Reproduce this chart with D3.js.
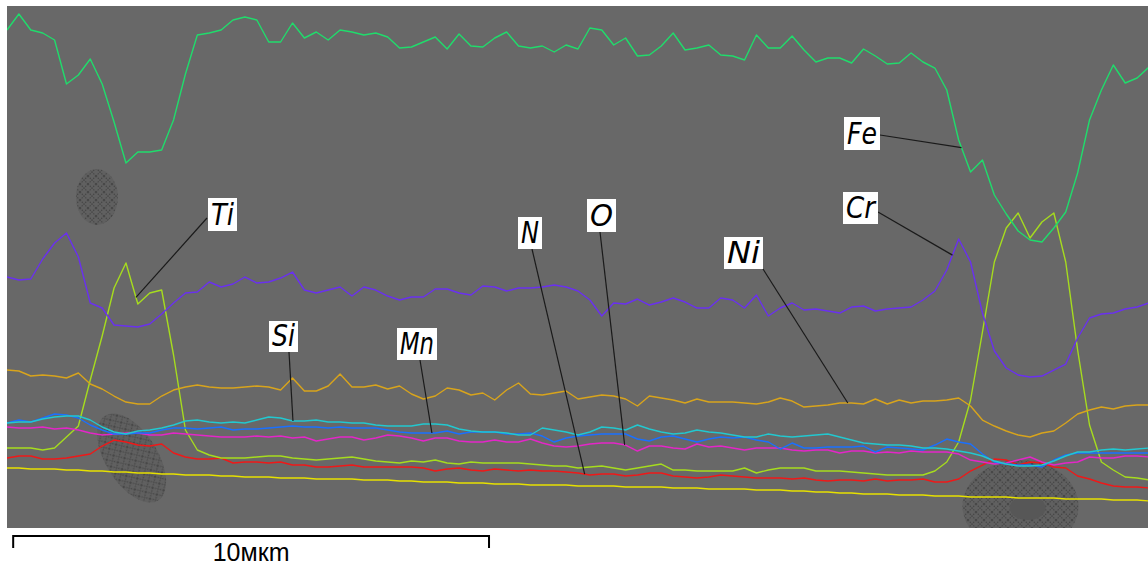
<!DOCTYPE html>
<html>
<head>
<meta charset="utf-8">
<script src="https://cdn.jsdelivr.net/npm/d3@7"></script>
<style>
  body { margin: 0; background: #fff; }
  svg { display: block; }
</style>
</head>
<body>
<svg width="1148" height="570"></svg>
<script>
// scan positions along the line, µm (0.25 µm step)
const dist = d3.range(0, 24.01, 0.25);

// intensities (counts) per element
const fe = [498,514,498,495,488,444,453,469,444,406,
  365,376,376,378,408,454,493,495,498,508,
  511,508,486,486,505,490,496,488,498,496,
  493,495,491,480,481,486,491,479,494,482,
  481,490,496,482,480,482,476,483,479,500,
  498,483,490,472,473,482,495,478,480,483,
  473,472,468,493,480,480,492,478,466,470,
  470,465,479,472,464,465,475,466,460,438,
  388,356,368,333,314,297,288,286,300,316,
  355,408,438,463,445,450,461];
const cr = [251,248,249,269,285,295,271,225,220,203,
  202,201,204,214,225,235,236,246,241,244,
  251,245,246,250,256,238,235,238,241,232,
  241,238,232,228,231,231,239,239,235,233,
  242,241,237,240,240,241,243,241,237,228,
  212,225,224,229,223,226,230,226,220,220,
  230,228,220,233,212,220,225,218,219,217,
  215,221,222,217,219,220,221,228,237,258,
  289,266,215,177,160,153,151,152,158,164,
  190,210,214,215,219,221,225];
const ti = [80,80,80,78,80,91,102,148,192,240,
  265,224,235,238,173,98,78,73,70,70,
  70,71,72,72,70,69,68,69,70,71,
  69,67,66,65,67,66,68,65,64,66,
  65,65,65,65,64,63,62,62,60,61,
  62,60,58,60,62,64,58,58,57,57,
  57,57,60,55,58,60,60,60,57,57,
  57,56,55,54,53,53,53,53,57,66,
  86,128,196,266,300,315,290,306,315,266,
  178,103,66,58,51,50,48];
const ni = [158,157,152,153,152,150,155,144,139,132,
  126,124,124,132,138,141,143,141,140,140,
  141,142,141,138,150,137,137,142,154,141,
  141,143,139,142,134,129,132,140,138,133,
  135,128,138,145,134,133,135,137,129,131,
  133,132,129,122,132,130,128,125,129,126,
  126,126,125,124,126,130,127,121,122,123,
  125,125,124,129,124,128,125,127,127,128,
  130,122,108,102,97,93,91,95,97,105,
  114,118,121,119,122,123,123];
const si = [105,106,106,109,111,112,112,108,101,96,
  94,97,98,100,103,107,108,106,105,106,
  105,108,111,110,107,107,108,106,106,105,
  105,103,102,102,102,104,104,103,99,97,
  96,96,95,93,93,100,98,96,93,96,
  101,100,98,103,99,96,94,95,98,96,
  95,93,91,91,94,92,91,92,93,94,
  91,88,85,84,83,83,82,80,80,79,
  77,75,72,67,64,62,62,63,67,72,
  76,76,78,79,78,79,80];
const mn = [105,108,106,110,114,113,110,103,98,94,
  94,95,95,98,100,100,99,100,101,98,
  99,99,100,101,102,101,101,100,101,100,
  100,100,98,96,95,95,95,97,94,96,
  96,96,94,94,95,92,86,90,92,93,
  94,94,94,89,87,91,92,89,86,89,
  91,90,91,88,86,79,85,80,80,81,
  81,81,82,76,81,80,79,78,83,89,
  86,84,74,66,64,63,63,61,68,73,
  75,75,75,75,75,75,75];
const o = [101,100,100,101,99,100,98,95,93,94,
  95,95,93,93,95,94,93,92,91,91,
  91,92,91,92,90,91,87,89,91,91,
  88,90,93,92,90,87,90,90,87,86,
  86,88,86,86,89,85,82,81,82,84,
  85,85,83,77,82,82,80,79,84,81,
  82,80,78,80,80,80,78,77,78,78,
  75,77,77,75,76,75,77,76,76,76,
  74,68,66,64,65,68,71,66,63,65,
  66,71,70,70,72,72,71];
const n = [70,72,72,69,69,70,72,74,82,88,
  86,83,82,84,75,71,69,69,70,65,
  66,66,65,66,63,63,61,61,62,63,
  61,61,61,61,61,60,57,59,60,58,
  57,59,58,57,58,57,57,56,55,53,
  54,54,52,53,55,55,52,51,50,51,
  53,52,51,50,50,50,49,50,48,47,
  48,48,47,49,47,48,48,49,46,46,
  49,57,63,69,68,63,66,65,61,60,
  52,49,45,42,41,41,40];
const c = [60,60,59,59,59,58,58,57,57,56,
  56,55,55,54,54,53,53,53,52,52,
  51,51,51,50,50,50,49,49,49,49,
  48,48,48,47,47,46,46,46,45,45,
  45,44,44,44,43,43,43,43,42,42,
  42,42,41,41,41,41,40,40,40,39,
  39,39,39,38,38,38,37,37,36,36,
  35,35,34,34,34,33,33,33,32,32,
  32,31,31,31,31,30,30,30,30,29,
  29,29,29,28,28,28,27];

const series = [
  { name: "C",  color: "#e6e000", values: c },
  { name: "N",  color: "#f01818", values: n },
  { name: "Ti", color: "#a6dc1e", values: ti },
  { name: "O",  color: "#e426c8", values: o },
  { name: "Mn", color: "#1a70ff", values: mn },
  { name: "Si", color: "#22c8d0", values: si },
  { name: "Ni", color: "#d8a41c", values: ni },
  { name: "Cr", color: "#6a30f0", values: cr },
  { name: "Fe", color: "#20dc6c", values: fe }
];

// callouts: where the leader touches the curve (µm) and the label box
const labels = [
  { name: "Fe", at: 20.06, box: [844, 117, 36, 33], from: [880, 135] },
  { name: "Cr", at: 19.87, box: [843, 192, 35, 32], from: [878, 212] },
  { name: "Ti", at: 2.71,  box: [208, 198, 29, 33], from: [207, 218] },
  { name: "Si", at: 6.01,  box: [269, 321, 29, 31], from: [289, 352] },
  { name: "Mn", at: 8.93,  box: [397, 328, 40, 32], from: [420, 360] },
  { name: "N",  at: 12.14, box: [518, 217, 24, 32], from: [532, 249] },
  { name: "O",  at: 12.98, box: [587, 199, 29, 33], from: [600, 232] },
  { name: "Ni", at: 17.67, box: [724, 237, 39, 32], from: [763, 269] }
];

let svg = d3.select("svg");

let x = d3.scaleLinear().domain([0, 24]).range([7, 1149]);
let y = d3.scaleLinear().domain([0, 522]).range([528, 6]);

let defs = svg.append("defs");
defs.append("clipPath")
  .attr("id", "plot")
  .append("rect")
  .attr("x", 7).attr("y", 6)
  .attr("width", 1141).attr("height", 522);

// crosshatch stipple of the particles
let pat = defs.append("pattern")
  .attr("id", "stipple")
  .attr("width", 8).attr("height", 8)
  .attr("patternUnits", "userSpaceOnUse");
pat.append("rect").attr("width", 8).attr("height", 8).attr("fill", "#606060");
pat.append("path")
  .attr("d", "M0,0 L8,8 M8,0 L0,8")
  .attr("stroke", "#474747")
  .attr("stroke-width", 1.2)
  .attr("stroke-dasharray", "1.5,1");

// grey SEM backdrop
svg.append("rect")
  .attr("x", 7).attr("y", 6)
  .attr("width", 1141).attr("height", 522)
  .attr("fill", "#686868");

// dark particles in the image
let blobs = svg.append("g").attr("clip-path", "url(#plot)");
blobs.append("ellipse")
  .attr("cx", x(1.89)).attr("cy", y(331))
  .attr("rx", 21).attr("ry", 28)
  .attr("fill", "url(#stipple)");
blobs.append("ellipse")
  .attr("cx", x(2.62)).attr("cy", y(70))
  .attr("rx", 50).attr("ry", 26)
  .attr("transform", `rotate(58 ${x(2.62)} ${y(70)})`)
  .attr("fill", "url(#stipple)");
blobs.append("ellipse")
  .attr("cx", x(21.3)).attr("cy", y(22))
  .attr("rx", 58).attr("ry", 46)
  .attr("fill", "url(#stipple)");
blobs.append("ellipse")
  .attr("cx", x(21.45)).attr("cy", y(20))
  .attr("rx", 18).attr("ry", 12)
  .attr("fill", "#575757");

let line = d3.line()
  .x((d, i) => x(dist[i]))
  .y(d => y(d));

svg.append("g")
  .attr("class", "lines")
  .attr("clip-path", "url(#plot)")
  .selectAll("path")
  .data(series)
  .enter()
  .append("path")
  .attr("d", d => line(d.values))
  .attr("fill", "none")
  .attr("stroke", d => d.color)
  .attr("stroke-width", 1.4)
  .attr("stroke-linejoin", "round");

// callouts
let byName = {};
series.forEach(s => byName[s.name] = s);

let callout = svg.append("g")
  .attr("class", "labels")
  .selectAll("g")
  .data(labels)
  .enter()
  .append("g");

callout.append("line")
  .attr("x1", d => d.from[0])
  .attr("y1", d => d.from[1])
  .attr("x2", d => x(d.at))
  .attr("y2", d => y(d3.scaleLinear(dist, byName[d.name].values)(d.at)))
  .attr("stroke", "#1a1a1a")
  .attr("stroke-width", 1.2);

callout.append("rect")
  .attr("x", d => d.box[0])
  .attr("y", d => d.box[1])
  .attr("width", d => d.box[2])
  .attr("height", d => d.box[3])
  .attr("fill", "#fff");

callout.append("text")
  .attr("x", d => d.box[0] + 3)
  .attr("y", d => d.box[1] + d.box[3] - 6)
  .attr("textLength", d => d.box[2] - 6)
  .attr("lengthAdjust", "spacingAndGlyphs")
  .attr("font-family", "'DejaVu Sans Condensed', 'DejaVu Sans', sans-serif")
  .attr("font-style", "italic")
  .attr("font-size", 31)
  .attr("fill", "#000")
  .text(d => d.name);

// scale bar: 10 µm
let bar = svg.append("g").attr("class", "scalebar");
let x0 = x(0.13), x1 = x(10.13);
bar.append("path")
  .attr("d", `M${x0},548 V536 H${x1} V548`)
  .attr("fill", "none")
  .attr("stroke", "#000")
  .attr("stroke-width", 2);
bar.append("text")
  .attr("x", (x0 + x1) / 2)
  .attr("y", 561)
  .attr("text-anchor", "middle")
  .attr("font-family", "'Liberation Sans', Arial, sans-serif")
  .attr("font-size", 25)
  .attr("fill", "#000")
  .text("10мкm");
</script>
</body>
</html>
